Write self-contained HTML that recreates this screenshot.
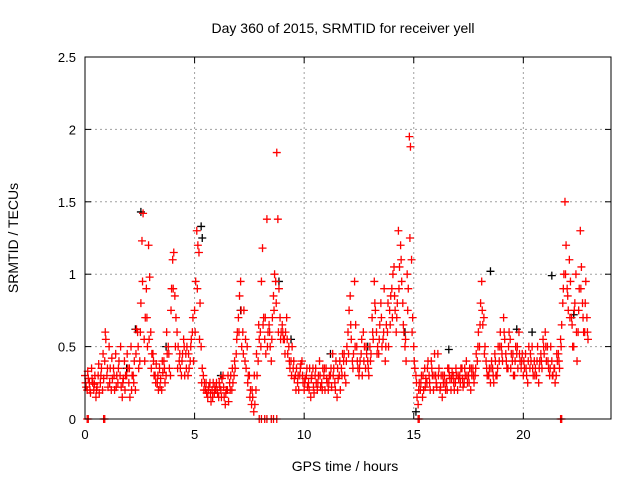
<!DOCTYPE html>
<html><head><meta charset="utf-8"><style>
body{margin:0;background:#fff;}
svg{display:block;font-family:"Liberation Sans",sans-serif;}
</style></head><body>
<svg id="chart" width="640" height="480">
<text x="343" y="33" font-size="14" text-anchor="middle">Day 360 of 2015, SRMTID for receiver yell</text>
<text x="345" y="471" font-size="14" text-anchor="middle">GPS time / hours</text>
<text transform="translate(18,238) rotate(-90)" font-size="14" text-anchor="middle">SRMTID / TECUs</text>
<g id="grid"></g><g id="axes"></g><g id="marks"></g>
<rect x="85" y="57" width="526" height="362" fill="none" stroke="#000" stroke-width="1"/>
</svg>
<script>
const xTicks=[0,5,10,15,20];
const yTicks=[0,0.5,1,1.5,2,2.5];
const yTickLabels=["0","0.5","1","1.5","2","2.5"];
const redA=[0.3,0.2,0.25,0.35,0.2,0.15,0.3,0.25,0.2,0.4, 0.3,0.5,0.2,0.35,0.45,0.25,0.3,0.15,0.4,0.3, 0.25,0.5,0.3,0.2,0.6,0.4,1.23,0.55,0.9,1.2, 0.6,0.45,0.3,0.25,0.35,0.2,0.4,0.3,0.5,0.3, 1.1,0.85,0.6,0.4,0.3,0.55,0.45,0.3,0.4,0.6, 0.75,1.3,1.15,0.5,0.3,0.2,0.15,0.25,0.2,0.18, 0.25,0.15,0.2,0.3,0.1,0.2,0.25,0.2,0.3,0.45, 0.7,0.95,0.6,0.4,0.5,0.3,0.1,0.05,0.2,0.4, 0.6,1.18,0.55,1.38,0.65,0.4,0.85,0.95,1.38,0.7, 0.65,0.55,0.7,0.5,0.4,0.35,0.3,0.25,0.3,0.4, 0.2,0.3,0.25,0.15,0.35,0.3,0.2,0.4,0.25,0.3, 0.35,0.2,0.3,0.45,0.25,0.15,0.3,0.35,0.4,0.25, 0.6,0.85,0.4,0.95,0.5,0.3,0.45,0.6,0.35,0.4, 0.5,0.7,0.95,0.6,0.45,0.8,0.55,0.4,0.6,0.75, 0.9,1.05,0.6,1.3,1.2,0.8,0.5,1.0,1.95,1.1, 0.5,0.3,0.1,0.2,0.15,0.35,0.25,0.3,0.4,0.2, 0.3,0.45,0.2,0.15,0.3,0.25,0.35,0.2,0.3,0.25, 0.2,0.3,0.35,0.25,0.4,0.3,0.2,0.35,0.3,0.4, 0.5,0.95,0.7,0.4,0.3,0.25,0.35,0.45,0.3,0.4, 0.5,0.7,0.45,0.35,0.55,0.4,0.3,0.45,0.6,0.35, 0.3,0.45,0.25,0.35,0.5,0.4,0.3,0.25,0.45,0.55, 0.6,0.5,0.3,0.4,0.35,0.3,0.45,0.55,0.8,1.5, 0.9,1.1,0.7,0.5,1.0,0.6,1.3,0.8,0.6,0.7];
const redB=[0.22,0.28,0.18,0.25,0.3,0.22,0.18,0.35,0.28,0.55, 0.22,0.35,0.28,0.2,0.3,0.4,0.22,0.28,0.3,0.35, 0.15,0.3,0.4,0.62,0.35,0.8,1.42,0.7,0.5,0.98, 0.45,0.3,0.38,0.2,0.28,0.32,0.25,0.45,0.35,0.9, 1.15,0.7,0.5,0.35,0.45,0.3,0.5,0.35,0.55,0.4, 0.95,1.2,0.8,0.35,0.25,0.18,0.22,0.12,0.25,0.2, 0.18,0.22,0.28,0.15,0.2,0.12,0.3,0.25,0.35,0.6, 0.85,0.5,0.75,0.35,0.3,0.2,0.15,0.1,0.3,0.55, 0.95,0.7,0.45,0.6,0.5,0.7,1.0,1.84,0.9,0.6, 0.55,0.6,0.45,0.35,0.5,0.28,0.35,0.2,0.38,0.25, 0.28,0.22,0.35,0.3,0.18,0.25,0.3,0.22,0.35,0.2, 0.25,0.3,0.22,0.35,0.4,0.28,0.2,0.45,0.3,0.5, 0.75,0.55,0.45,0.65,0.35,0.4,0.3,0.5,0.45,0.3, 0.45,0.55,0.75,0.5,0.65,0.5,0.9,0.65,0.5,0.85, 1.0,0.75,0.8,1.05,0.95,0.6,0.4,0.9,1.88,0.7, 0.35,0.15,0.25,0.3,0.2,0.28,0.4,0.2,0.3,0.45, 0.22,0.35,0.3,0.25,0.2,0.35,0.28,0.32,0.2,0.3, 0.28,0.35,0.22,0.3,0.25,0.35,0.3,0.25,0.45,0.6, 0.8,0.65,0.5,0.3,0.35,0.4,0.25,0.3,0.5,0.6, 0.4,0.55,0.35,0.6,0.45,0.3,0.5,0.35,0.4,0.45, 0.35,0.3,0.5,0.4,0.3,0.35,0.5,0.4,0.35,0.45, 0.4,0.35,0.5,0.3,0.25,0.4,0.35,0.65,1.0,1.2, 0.75,0.95,0.5,0.8,0.4,0.9,1.05,0.6,0.95,0.55];
const redC=[0.25,0.33,0.2,0.28,0.24,0.2,0.38,0.3,0.45,0.6, 0.35,0.25,0.42,0.3,0.22,0.35,0.5,0.25,0.2,0.45, 0.35,0.2,0.25,0.45,0.5,0.6,0.95,0.4,0.7,0.55, 0.35,0.4,0.25,0.3,0.22,0.4,0.35,0.6,0.45,0.75, 0.9,0.5,0.35,0.45,0.4,0.5,0.35,0.45,0.5,0.7, 0.6,0.9,0.55,0.25,0.2,0.25,0.2,0.18,0.15,0.22, 0.2,0.25,0.15,0.22,0.18,0.3,0.2,0.35,0.4,0.55, 0.6,0.75,0.45,0.55,0.25,0.15,0.2,0.3,0.45,0.65, 0.5,0.65,0.7,0.5,0.6,0.55,0.75,0.8,0.6,0.55, 0.6,0.45,0.55,0.4,0.3,0.4,0.2,0.3,0.35,0.3, 0.25,0.35,0.2,0.28,0.22,0.35,0.25,0.3,0.2,0.35, 0.28,0.25,0.35,0.3,0.2,0.35,0.4,0.3,0.45,0.4, 0.45,0.65,0.35,0.5,0.4,0.35,0.55,0.4,0.5,0.35, 0.4,0.6,0.8,0.45,0.55,0.7,0.6,0.5,0.8,0.65, 0.7,0.85,0.7,0.9,1.1,0.65,0.55,0.75,1.25,0.6, 0.4,0.25,0.2,0.25,0.3,0.22,0.35,0.25,0.35,0.3, 0.25,0.3,0.22,0.3,0.25,0.2,0.3,0.28,0.25,0.35, 0.3,0.25,0.28,0.35,0.3,0.25,0.35,0.3,0.35,0.5, 0.65,0.75,0.45,0.35,0.3,0.35,0.3,0.4,0.35,0.5, 0.45,0.6,0.4,0.5,0.35,0.45,0.4,0.5,0.45,0.4, 0.4,0.35,0.4,0.45,0.35,0.3,0.4,0.35,0.4,0.5, 0.5,0.4,0.35,0.3,0.35,0.45,0.4,0.5,0.9,1.0, 0.85,0.7,0.65,0.75,0.6,0.75,0.9,0.7,0.8,0.6];
const zeroTimes=[0.1,0.15,0.85,0.9,7.95,8.05,8.2,8.3,8.5,8.6,8.75,15.2,15.25,21.7,21.75];
const blackT=[2.3,2.55,3.7,5.3,5.35,7.1,8.85,9.4,11.2,14.6,15.1,16.6,18.5,19.7,20.4,21.3,22.3,1.9,6.2,12.9];
const blackV=[0.62,1.43,0.5,1.33,1.25,0.75,0.95,0.55,0.45,0.6,0.05,0.48,1.02,0.62,0.6,0.99,0.72,0.35,0.3,0.5];
const NS='http://www.w3.org/2000/svg';
const X0=85,X1=611,Y0=419,Y1=57;
function xs(t){return X0+t/24*(X1-X0);}
function ys(v){return Y0-v/2.5*(Y0-Y1);}
const grid=document.getElementById('grid'),axes=document.getElementById('axes'),marks=document.getElementById('marks');
function mk(tag,attrs,parent){const e=document.createElementNS(NS,tag);for(const k in attrs)e.setAttribute(k,attrs[k]);parent.appendChild(e);return e;}
xTicks.forEach((t,i)=>{
  const x=xs(t);
  if(i>0){const g=mk('line',{x1:x,x2:x,y1:Y0,y2:Y1,stroke:'#a0a0a0','stroke-dasharray':'2,3'},grid);
  
  }
  mk('line',{x1:x,x2:x,y1:Y0,y2:Y0-6,stroke:'#000'},axes);
  mk('line',{x1:x,x2:x,y1:Y1,y2:Y1+6,stroke:'#000'},axes);
  const l=mk('text',{x:x,y:Y0+20,'font-size':13,'text-anchor':'middle'},axes);l.textContent=String(t);
  
  
});
yTicks.forEach((v,i)=>{
  const y=ys(v);
  if(i>0&&i<yTicks.length-1){const g=mk('line',{x1:X0,x2:X1,y1:y,y2:y,stroke:'#a0a0a0','stroke-dasharray':'2,3'},grid);
  
  }
  mk('line',{x1:X0,x2:X0+6,y1:y,y2:y,stroke:'#000'},axes);
  mk('line',{x1:X1,x2:X1-6,y1:y,y2:y,stroke:'#000'},axes);
  const l=mk('text',{x:X0-9,y:y+5,'font-size':13,'text-anchor':'end'},axes);l.textContent=yTickLabels[i];
  
  
});
function plus(t,v,color,name){
  const x=xs(t),y=ys(v);
  const p=mk('path',{d:`M${x-4} ${y}H${x+4}M${x} ${y-4}V${y+4}`,stroke:color,'stroke-width':1.3,fill:'none'},marks);
  
  
}
blackT.forEach((t,i)=>plus(t,blackV[i],'#000','black-point'));
redA.forEach((v,i)=>plus(i*0.1,v,'#ff0000','red-point'));
redB.forEach((v,i)=>plus(i*0.1+0.05,v,'#ff0000','red-point'));
redC.forEach((v,i)=>plus(i*0.1+0.025,v,'#ff0000','red-point'));
zeroTimes.forEach(t=>plus(t,0,'#ff0000','zero-point'));
</script>
</body></html>
